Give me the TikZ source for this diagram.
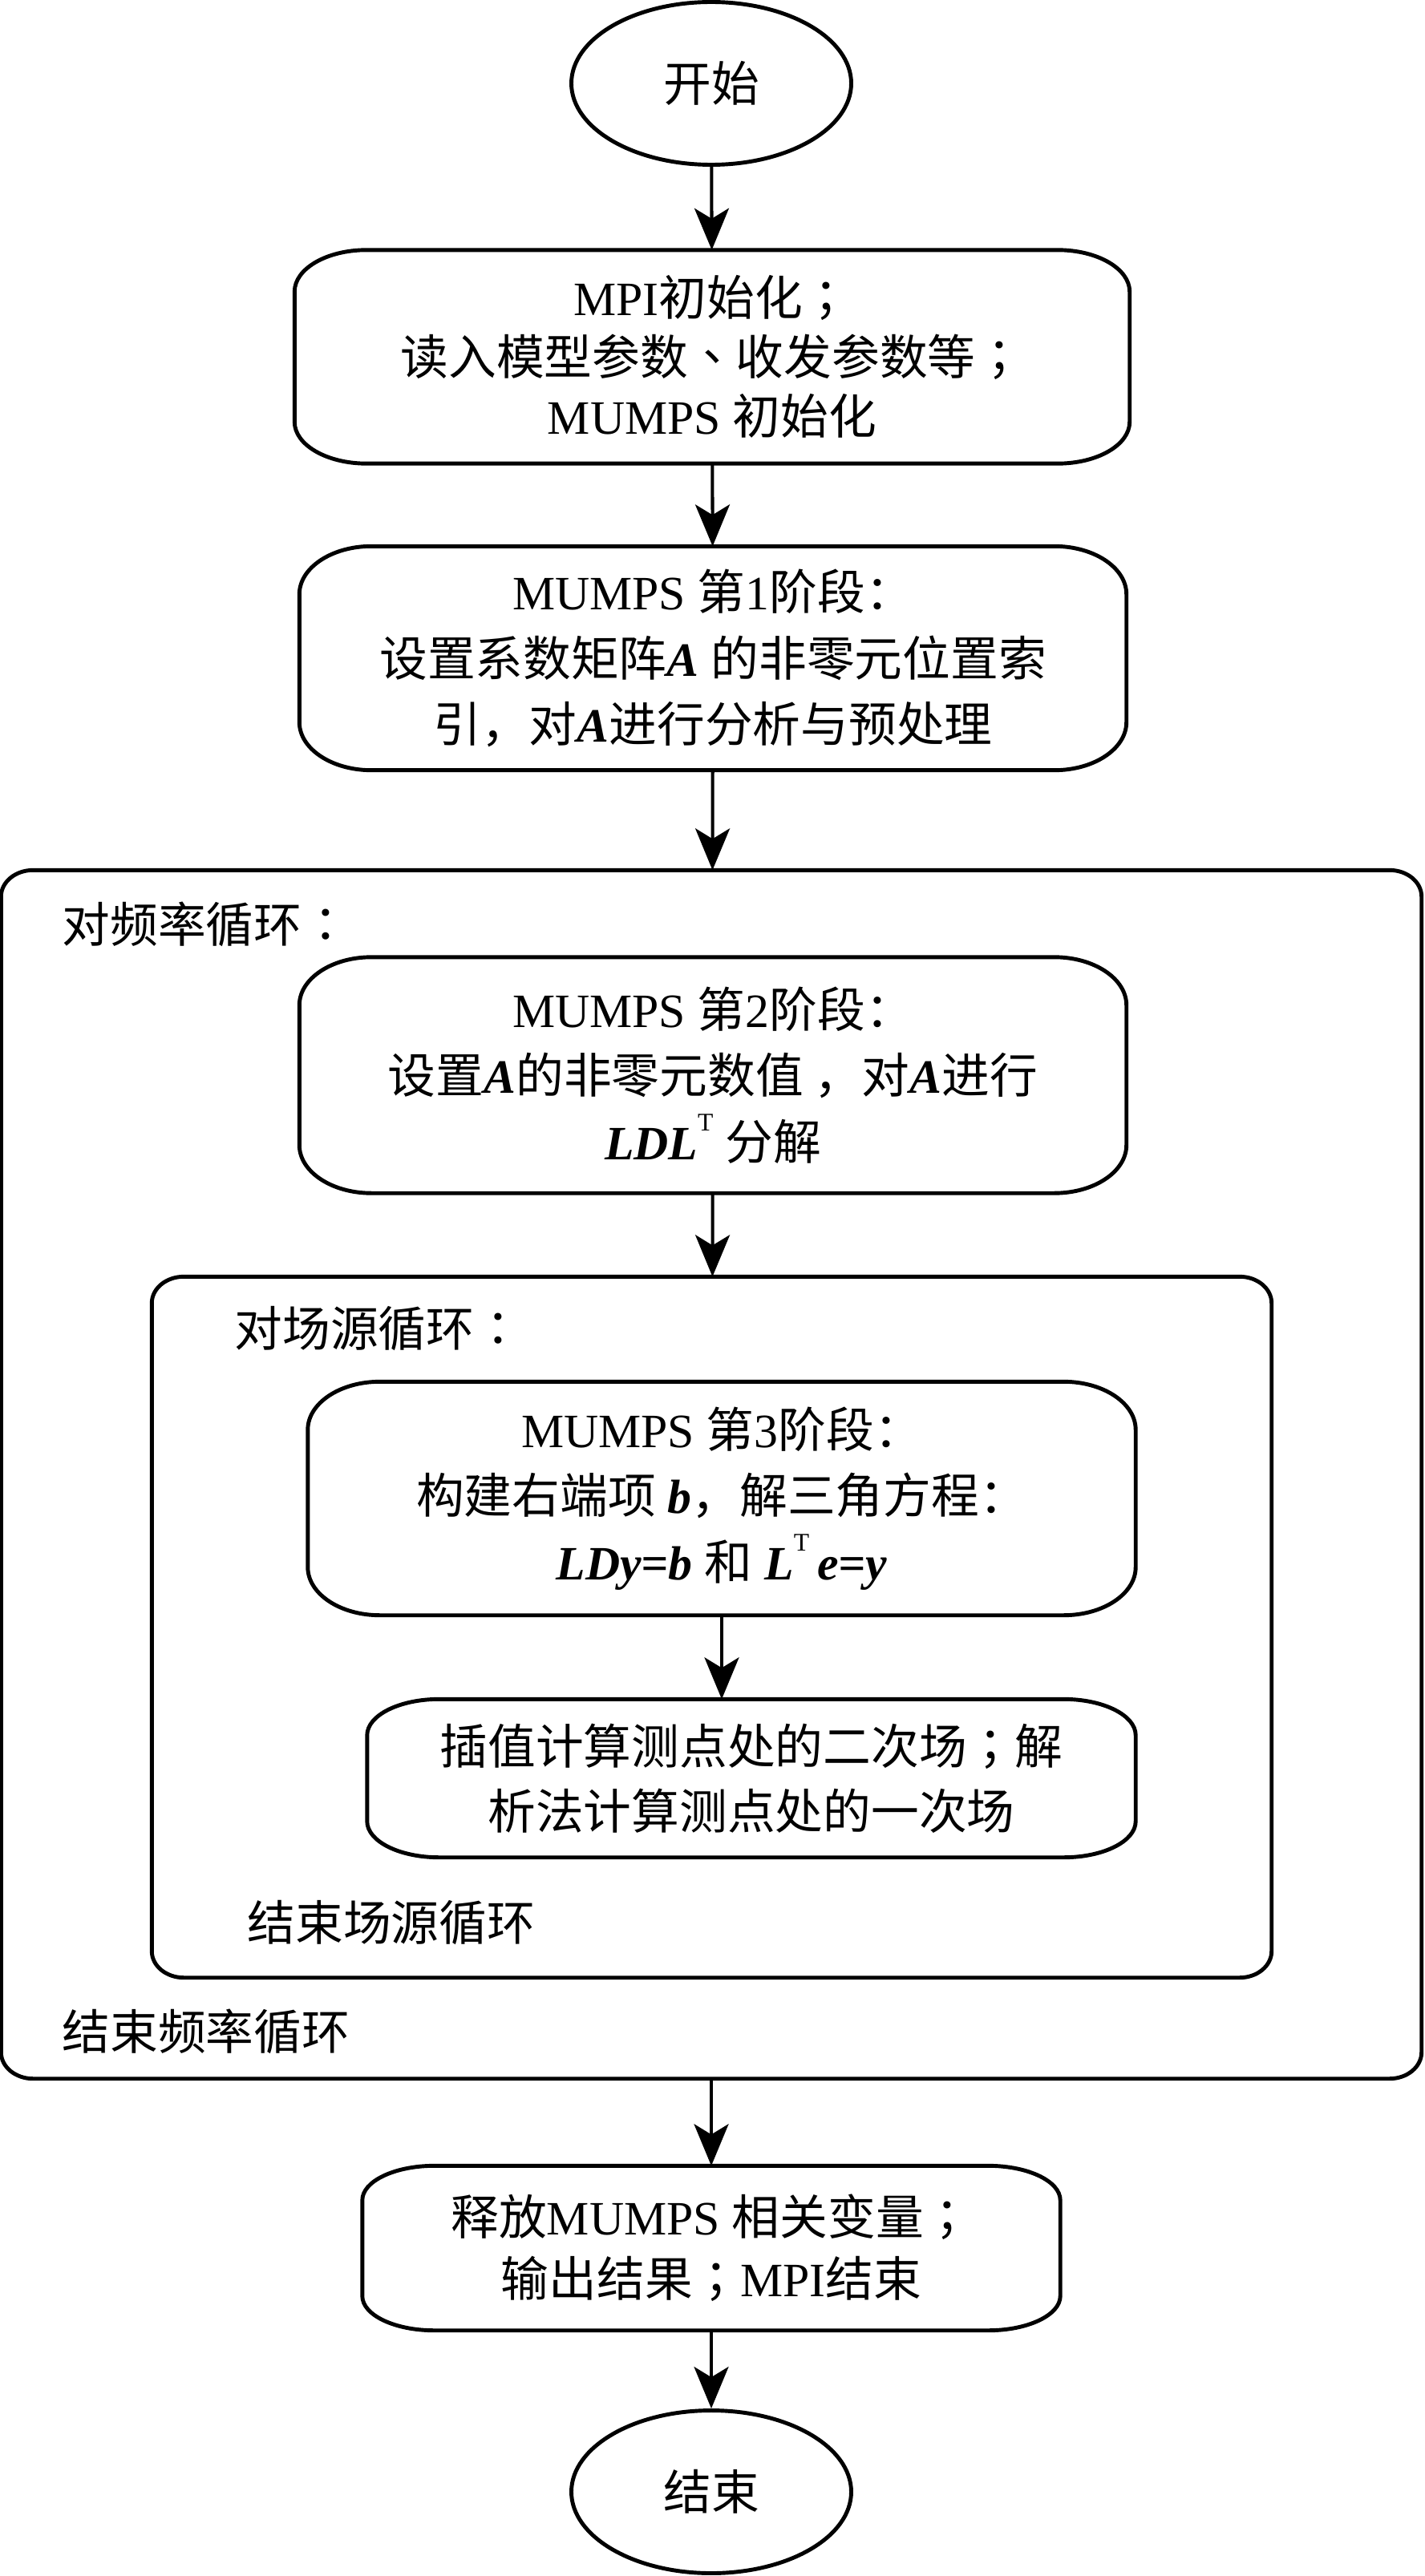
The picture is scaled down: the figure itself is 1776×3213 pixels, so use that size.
\documentclass[tikz,border=0pt]{standalone}
\usepackage{fontspec}
\setmainfont{Liberation Serif}
\newfontfamily\cjk{Noto Sans CJK SC}
\newfontfamily\cjktc{Noto Sans CJK TC}
\usepackage{tikz}
\usetikzlibrary{shapes.geometric,arrows.meta,calc,positioning}
\newcommand\zh[1]{{\cjk #1}}
\newcommand\pc[1]{{\cjktc #1}}% centred punctuation
\newcommand\vb[1]{\textbf{\textit{#1}}}
\newcommand\supT{\raisebox{3.6mm}{\fontsize{9}{10}\selectfont T}}
% box with elliptic corners round a node: name, x radius, y radius
\newcommand\roundbox[3]{%
  \draw[boxline] ([xshift=#2]#1.north west) -- ([xshift=-#2]#1.north east)
    arc[start angle=90, end angle=0, x radius=#2, y radius=#3]
    -- ([yshift=#3]#1.south east)
    arc[start angle=0, end angle=-90, x radius=#2, y radius=#3]
    -- ([xshift=#2]#1.south west)
    arc[start angle=-90, end angle=-180, x radius=#2, y radius=#3]
    -- ([yshift=-#3]#1.north west)
    arc[start angle=180, end angle=90, x radius=#2, y radius=#3]
    -- cycle;}
\tikzset{
  boxline/.style={line width=1.4pt, line join=round},
  term/.style={ellipse, draw, line width=1.4pt, minimum width=34.9mm,
  minimum height=20.3mm, inner sep=0pt, font=\fontsize{17}{21}\selectfont},
  proc/.style={align=center, inner sep=0pt, font=\fontsize{17}{23.5}\selectfont},
  frame/.style={inner sep=0pt},
  looptext/.style={anchor=west, inner sep=0pt, font=\fontsize{17}{21}\selectfont},
  flow/.style={line width=1.15pt, -{Stealth[length=5.2mm, width=4.3mm, inset=1.3mm]}}
}
\begin{document}
\begin{tikzpicture}[x=0.1mm, y=-0.1mm]
    \useasboundingbox (0,0) rectangle (1776,3213);
    % loop frames
    \node (outer) [frame, minimum width=177mm, minimum height=150.6mm] at (887,1839) {};
    \node (inner) [frame, minimum width=139.5mm, minimum height=87.3mm] at (887.5,2029.5) {};
    \roundbox{outer}{4mm}{3.3mm}
    \roundbox{inner}{4mm}{3.3mm}
    \node (freqA) [looptext] at (77,1153) {\zh{对频率循环}\pc{：}};
    \node (freqB) [looptext] at (77,2534) {\zh{结束频率循环}};
    \node (srcA) [looptext] at (292,1657) {\zh{对场源循环}\pc{：}};
    \node (srcB) [looptext] at (308,2398) {\zh{结束场源循环}};
    % steps
    \node (start) [term] at (887,104) {\zh{开始}};
    \node (init) [proc, minimum width=104mm, minimum height=26.5mm,
    font=\fontsize{17}{21}\selectfont] at (888,445)
    {MPI\zh{初始化}\pc{；}\\ \zh{读入模型参数}\pc{、}\zh{收发参数等}\pc{；}\\ MUMPS \zh{初始化}};
    \node (stage1) [proc, minimum width=103mm, minimum height=27.8mm] at (889,821)
    {MUMPS \zh{第}1\zh{阶段：}\\ \zh{设置系数矩阵}\vb{A} \zh{的非零元位置索}\\
    \zh{引，对}\vb{A}\zh{进行分析与预处理}};
    \node (stage2) [proc, minimum width=103mm, minimum height=29.3mm] at (889,1341)
    {MUMPS \zh{第}2\zh{阶段：}\\ \zh{设置}\vb{A}\zh{的非零元数值 ，对}\vb{A}\zh{进行}\\
    \vb{LDL}\supT\ \zh{分解}};
    \node (stage3) [proc, minimum width=103.1mm, minimum height=29mm] at (900,1869)
    {MUMPS \zh{第}3\zh{阶段：}\\ \zh{构建右端项} \vb{b}\zh{，解三角方程：}\\
    \vb{LDy=b} \zh{和} \vb{L}\supT\,\vb{e=y}};
    \node (interp) [proc, minimum width=95.7mm, minimum height=19.6mm,
    font=\fontsize{17}{23}\selectfont] at (937,2218)
    {\zh{插值计算测点处的二次场}\pc{；}\zh{解}\\ \zh{析法计算测点处的一次场}};
    \node (final) [proc, minimum width=86.9mm, minimum height=20.4mm,
    font=\fontsize{17}{22}\selectfont] at (887,2804)
    {\zh{释放}MUMPS \zh{相关变量}\pc{；}\\ \zh{输出结果}\pc{；}MPI\zh{结束}};
    \node (stop) [term] at (887,3108) {\zh{结束}};
    \roundbox{init}{9mm}{5.2mm}
    \roundbox{stage1}{9mm}{6mm}
    \roundbox{stage2}{9mm}{6mm}
    \roundbox{stage3}{9mm}{6mm}
    \roundbox{interp}{9mm}{4.5mm}
    \roundbox{final}{9mm}{4.3mm}
    % arrows
    \path (start) edge [flow] (init);
    \path (init) edge [flow] (stage1);
    \path (stage1) edge [flow] (outer);
    \path (stage2) edge [flow] (inner);
    \path (stage3.south) edge [flow] (stage3.south |- interp.north);
    \path (outer) edge [flow] (final);
    \path (final) edge [flow] (stop);
\end{tikzpicture}
\end{document}
